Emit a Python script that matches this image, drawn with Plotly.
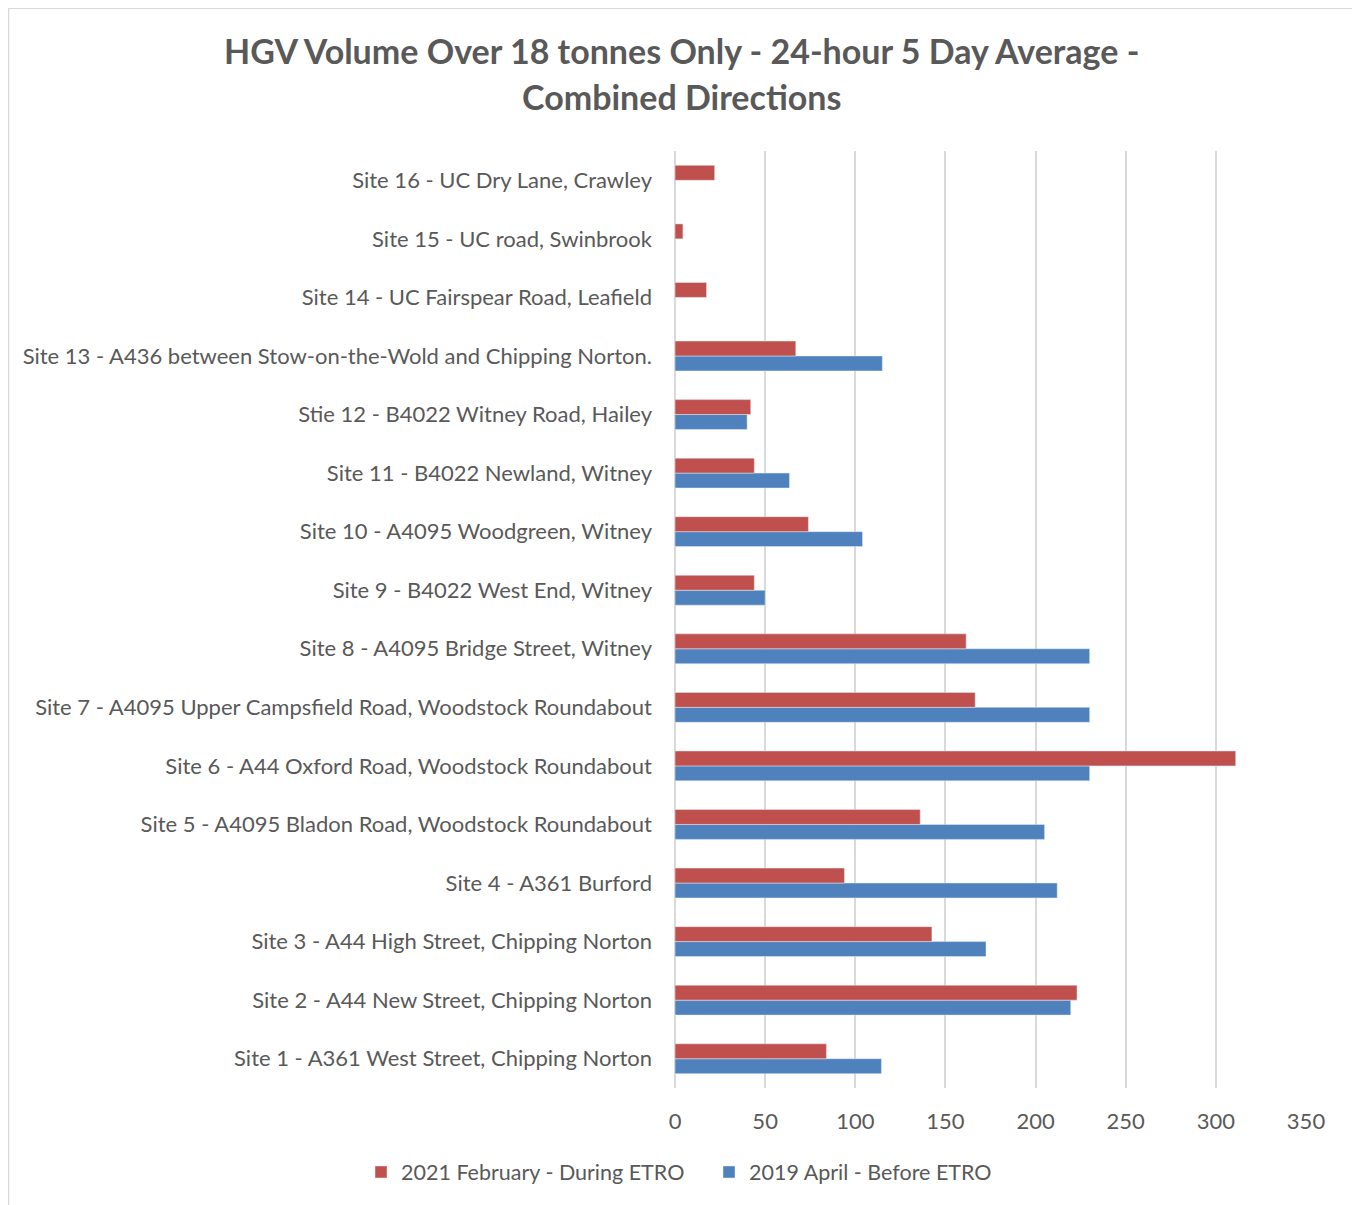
import plotly.graph_objects as go

sites = [
    "Site 1 - A361 West Street, Chipping Norton",
    "Site 2 - A44 New Street, Chipping Norton",
    "Site 3 - A44 High Street, Chipping Norton",
    "Site 4 - A361 Burford",
    "Site 5 - A4095 Bladon Road, Woodstock Roundabout",
    "Site 6 - A44 Oxford Road, Woodstock Roundabout",
    "Site 7 - A4095 Upper Campsfield Road, Woodstock Roundabout",
    "Site 8 - A4095 Bridge Street, Witney",
    "Site 9 - B4022 West End, Witney",
    "Site 10 - A4095 Woodgreen, Witney",
    "Site 11 - B4022 Newland, Witney",
    "Stie 12 - B4022 Witney Road, Hailey",
    "Site 13 - A436 between Stow-on-the-Wold and Chipping Norton.",
    "Site 14 - UC Fairspear Road, Leafield",
    "Site 15 - UC road, Swinbrook",
    "Site 16 - UC Dry Lane, Crawley",
]
feb_2021 = [84, 223, 142.5, 94, 136, 311, 166.5, 161.5, 44, 74, 44, 42, 67, 17.5, 4.4, 22]
apr_2019 = [114.5, 219.5, 172.5, 212, 205, 230, 230, 230, 50, 104, 63.5, 40, 115, None, None, None]
x_ticks = [0, 50, 100, 150, 200, 250, 300, 350]

RED = "#C0504D"
BLUE = "#4F81BD"
GREY = "#595959"
FONT = "Lato"

fig = go.Figure()
fig.add_trace(go.Bar(y=sites, x=apr_2019, orientation="h", name="2019 April - Before ETRO",
                     marker=dict(color=BLUE), legendrank=2))
fig.add_trace(go.Bar(y=sites, x=feb_2021, orientation="h", name="2021 February - During ETRO",
                     marker=dict(color=RED), legendrank=1))

# page offset (body margin) -> figure coordinates
OFF = 8
FW, FH = 1360, 1205
# plot-area edges in screen pixels
SL, SR, ST, SB = 675, 1306, 151, 1088
L, R, T, B = SL - OFF, SR - OFF, ST - OFF, SB - OFF
H = B - T
W = R - L
def py(p):
    return (B - (p - OFF)) / H
def px(p):
    return ((p - OFF) - L) / W

fig.update_layout(
    width=FW, height=FH,
    margin=dict(l=L, r=FW - R, t=T, b=FH - B, pad=0),
    paper_bgcolor="white", plot_bgcolor="white",
    barmode="group", bargap=0.49, bargroupgap=0,
    font=dict(family=FONT, color=GREY, size=22),
    showlegend=True,
    legend=dict(orientation="h", x=px(361), xanchor="left", y=py(1172), yanchor="middle",
                font=dict(size=21.5, color=GREY), itemwidth=30, entrywidth=303,
                traceorder="normal", bgcolor="rgba(0,0,0,0)"),
    xaxis=dict(range=[0, 350], tickvals=x_ticks, showgrid=True, gridcolor="#D9D9D9", gridwidth=2,
               zeroline=True, zerolinecolor="#D9D9D9", zerolinewidth=2, showline=False,
               tickfont=dict(size=22, color=GREY), ticklabelstandoff=18, fixedrange=True),
    yaxis=dict(type="category", showgrid=False, zeroline=False, showline=False,
               tickfont=dict(size=22, color=GREY), ticklabelstandoff=22, fixedrange=True),
    shapes=[dict(type="rect", xref="paper", yref="paper", x0=px(8.5), x1=px(1354), y0=py(1230), y1=py(8.2),
                 line=dict(color="#D9D9D9", width=1.5), fillcolor="rgba(0,0,0,0)", layer="below")],
    annotations=[
        dict(text="<b>HGV Volume Over 18 tonnes Only - 24-hour 5 Day Average -</b>", xref="paper", yref="paper",
             x=px(681), y=py(50), xanchor="center", yanchor="middle", showarrow=False,
             font=dict(size=34, color=GREY, family=FONT)),
        dict(text="<b>Combined Directions</b>", xref="paper", yref="paper",
             x=px(681), y=py(97), xanchor="center", yanchor="middle", showarrow=False,
             font=dict(size=34, color=GREY, family=FONT)),
    ],
)

fig.write_html("out.html")
